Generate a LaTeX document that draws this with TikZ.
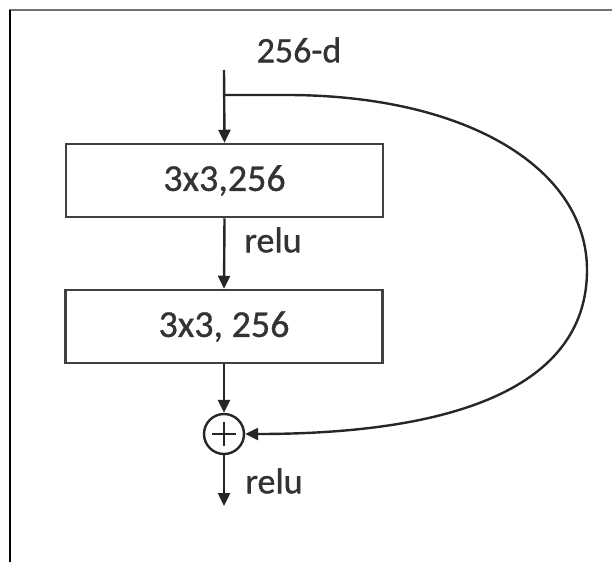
\documentclass[tikz,border=0pt]{standalone}
\usepackage{fontspec}
\setmainfont{Carlito}[FakeBold=0.8]
\usetikzlibrary{arrows.meta,calc}
\begin{document}
\begin{tikzpicture}[x={(1pt,0)},y={(0,-1pt)},
  every node/.style={font=\fontsize{38}{42}\selectfont, text=black!80},
  blk/.style={draw=black!75, line width=2.5pt, minimum width=317pt, minimum height=73pt, inner sep=0pt},
  conn/.style={line width=2.4pt, draw=black!85},
  arr/.style={conn, -{Triangle[length=13pt,width=12pt]}},
  lbl/.style={font=\fontsize{36}{40}\selectfont, inner sep=0pt}]
\useasboundingbox (0,0) rectangle (612,562);
% frame
\draw[black!55, line width=2.5pt] (9,10) -- (612,10);
\draw[black, line width=1.5pt] (10,10) -- (10,562);
% nodes
\coordinate (in) at (224,70);
\coordinate (br) at (224,95);
\node[blk] (b1) at (224.5,180.5) {3x3,256};
\node[blk] (b2) at (224,326.5) {3x3, 256};
\node[circle, draw=black!85, line width=2.4pt, minimum size=40pt, inner sep=0pt] (plus) at (224,434) {};
\draw[line width=2.4pt, black!85] ($(plus.center)+(-12,0)$) -- ($(plus.center)+(12,0)$);
\draw[line width=2.4pt, black!85] ($(plus.center)+(0,-12)$) -- ($(plus.center)+(0,12)$);
\coordinate (out) at (224,506);
\node[inner sep=0pt, font=\fontsize{36}{40}\selectfont] (t) at (299,50) {256-d};
\node[lbl] (r1) at (273,240) {relu};
\node[lbl] (r2) at (274,481) {relu};
% connectors
\draw[arr] (in) -- (b1.north);
\draw[arr] (b1.south) -- (b2.north);
\draw[arr] (b2.south) -- (plus.north);
\draw[arr] (plus.south) -- (out);
\draw[arr] (br) -- (290,95) .. controls (470,96) and (587,170) .. (587,270)
  .. controls (587,380) and (470,434) .. (plus.east);
\end{tikzpicture}
\end{document}
